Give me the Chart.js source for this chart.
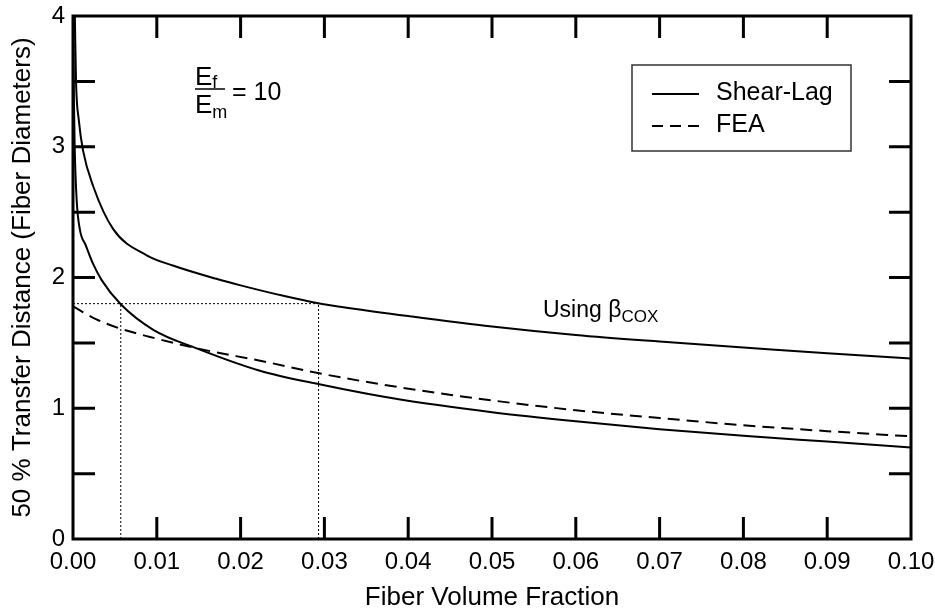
<!DOCTYPE html>
<html>
<head>
<meta charset="utf-8">
<script src="https://cdn.jsdelivr.net/npm/chart.js@4.4.1/dist/chart.umd.min.js"></script>
<style>
  html, body { margin: 0; padding: 0; background: #fff; }
  #wrap { width: 935px; height: 611px; }
</style>
</head>
<body>
<div id="wrap"><canvas id="grafico" width="935" height="611"></canvas></div>
<script>
// Shear-lag, using beta Cox
const fracaoCox = [0.00022, 0.00036, 0.0007, 0.0012, 0.0024, 0.0048, 0.0088, 0.012, 0.0171, 0.02, 0.0251, 0.0291, 0.0331, 0.04, 0.05, 0.06, 0.07, 0.08, 0.09, 0.10];
const distanciaCox = [4.0, 3.5, 3.2, 2.97, 2.70, 2.37, 2.17, 2.09, 1.99, 1.94, 1.86, 1.805, 1.765, 1.705, 1.625, 1.56, 1.51, 1.465, 1.42, 1.38];

// Shear-lag, lower curve
const fracaoShear = [0.00003, 0.0001, 0.0002, 0.00044, 0.00084, 0.0015, 0.00243, 0.00342, 0.0057, 0.00958, 0.01476, 0.0223, 0.0294, 0.0387, 0.05, 0.06, 0.07, 0.08, 0.09, 0.10];
const distanciaShear = [4.0, 3.4, 3.0, 2.59, 2.36, 2.25, 2.10, 1.98, 1.795, 1.60, 1.458, 1.287, 1.183, 1.07, 0.97, 0.90, 0.84, 0.79, 0.745, 0.70];

// FEA
const fracaoFEA = [0, 0.0028, 0.0056, 0.0092, 0.0148, 0.0229, 0.0294, 0.039, 0.05, 0.06, 0.07, 0.08, 0.09, 0.10];
const distanciaFEA = [1.78, 1.68, 1.61, 1.545, 1.458, 1.356, 1.267, 1.16, 1.06, 0.985, 0.925, 0.87, 0.825, 0.785];

// dotted guide lines
const guiaY = 1.8;
const guiaX = [0.0057, 0.0293];

const xTicks = [0, 0.01, 0.02, 0.03, 0.04, 0.05, 0.06, 0.07, 0.08, 0.09, 0.10];
const yTicks = [0, 0.5, 1, 1.5, 2, 2.5, 3, 3.5, 4];

const fonte = '"Liberation Sans", Arial, Helvetica, sans-serif';

function pontos(xs, ys){
    return xs.map((x, i) => ({x: x, y: ys[i]}));
};

function semPadding(s){
    s.paddingLeft = 0; s.paddingRight = 0; s.paddingTop = 0; s.paddingBottom = 0;
};

const linhaCurva = { borderColor: '#000', borderWidth: 2, pointRadius: 0, fill: false, cubicInterpolationMode: 'monotone' };
const linhaGuia = { borderColor: '#000', borderWidth: 1, borderDash: [2, 2], pointRadius: 0, fill: false };

//moldura, ticks internos e textos
const moldura = {
    id: 'moldura',
    afterDraw(chart){
        const ctx = chart.ctx;
        const a = chart.chartArea;
        const sx = chart.scales.x;
        const sy = chart.scales.y;
        ctx.save();
        ctx.strokeStyle = '#000';
        ctx.lineWidth = 3;
        ctx.lineCap = 'butt';
        ctx.strokeRect(a.left, a.top, a.right - a.left, a.bottom - a.top);
        const tam = 22;
        ctx.beginPath();
        xTicks.slice(1, -1).forEach(v => {
            const px = sx.getPixelForValue(v);
            ctx.moveTo(px, a.bottom); ctx.lineTo(px, a.bottom - tam);
            ctx.moveTo(px, a.top); ctx.lineTo(px, a.top + tam);
        });
        yTicks.slice(1, -1).forEach(v => {
            const py = sy.getPixelForValue(v);
            ctx.moveTo(a.left, py); ctx.lineTo(a.left + tam, py);
            ctx.moveTo(a.right, py); ctx.lineTo(a.right - tam, py);
        });
        ctx.stroke();

        // Ef / Em = 10
        ctx.fillStyle = '#000';
        ctx.textBaseline = 'alphabetic';
        ctx.textAlign = 'left';
        ctx.font = '26px ' + fonte;
        ctx.fillText('E', 195, 85);
        let w = ctx.measureText('E').width;
        ctx.font = '18px ' + fonte;
        ctx.fillText('f', 195 + w, 88);
        ctx.font = '26px ' + fonte;
        ctx.fillText('E', 195, 113);
        ctx.font = '18px ' + fonte;
        ctx.fillText('m', 195 + w, 118);
        ctx.lineWidth = 1.5;
        ctx.beginPath();
        ctx.moveTo(195, 89); ctx.lineTo(225, 89);
        ctx.stroke();
        ctx.font = '25px ' + fonte;
        ctx.fillText('= 10', 232, 100);

        // Using beta COX
        ctx.font = '23px ' + fonte;
        ctx.fillText('Using \u03b2', 543, 317);
        w = ctx.measureText('Using \u03b2').width;
        ctx.font = '17px ' + fonte;
        ctx.fillText('COX', 543 + w, 322);

        // legenda
        ctx.lineWidth = 1.5;
        ctx.strokeStyle = '#333';
        ctx.strokeRect(632, 65, 219, 86);
        ctx.strokeStyle = '#000';
        ctx.lineWidth = 2;
        ctx.beginPath();
        ctx.moveTo(652, 94); ctx.lineTo(699, 94);
        ctx.stroke();
        ctx.setLineDash([11, 7]);
        ctx.beginPath();
        ctx.moveTo(652, 126); ctx.lineTo(699, 126);
        ctx.stroke();
        ctx.setLineDash([]);
        ctx.font = '25px ' + fonte;
        ctx.textBaseline = 'middle';
        ctx.fillText('Shear-Lag', 716, 93);
        ctx.fillText('FEA', 716, 125);
        ctx.restore();
    }
};

const grafico = document.getElementById('grafico');
const graficoDistancia = new Chart(grafico, {
    type: 'line',
    data: {
        datasets: [
            Object.assign({ label: 'guia h', data: [{x: 0, y: guiaY}, {x: guiaX[1], y: guiaY}] }, linhaGuia),
            Object.assign({ label: 'guia v1', data: [{x: guiaX[0], y: 0}, {x: guiaX[0], y: guiaY}] }, linhaGuia),
            Object.assign({ label: 'guia v2', data: [{x: guiaX[1], y: 0}, {x: guiaX[1], y: guiaY}] }, linhaGuia),
            Object.assign({ label: 'Using βCOX', data: pontos(fracaoCox, distanciaCox) }, linhaCurva),
            Object.assign({ label: 'Shear-Lag', data: pontos(fracaoShear, distanciaShear) }, linhaCurva),
            Object.assign({ label: 'FEA', data: pontos(fracaoFEA, distanciaFEA), borderDash: [12, 7] }, linhaCurva)
        ]
    },
    options: {
        responsive: false,
        animation: false,
        layout: { padding: { top: 16, right: 24, bottom: 0, left: 0 } },
        plugins: { legend: { display: false }, tooltip: { enabled: false } },
        scales: {
            x: {
                type: 'linear',
                min: 0, max: 0.1,
                grid: { display: false, drawTicks: false },
                border: { display: false },
                afterFit: (s) => { s.height = 72; semPadding(s); },
                afterBuildTicks: (s) => { s.ticks = xTicks.map(v => ({value: v})); },
                ticks: {
                    color: '#000', padding: 9, maxRotation: 0, autoSkip: false,
                    font: { family: fonte, size: 24 },
                    callback: (v) => Number(v).toFixed(2)
                },
                title: {
                    display: true, text: 'Fiber Volume Fraction', color: '#000',
                    font: { family: fonte, size: 26, lineHeight: 1 },
                    padding: { top: 0, bottom: 0 }
                }
            },
            y: {
                type: 'linear',
                min: 0, max: 4,
                grid: { display: false, drawTicks: false },
                border: { display: false },
                afterFit: (s) => { s.width = 73; semPadding(s); },
                afterBuildTicks: (s) => { s.ticks = yTicks.map(v => ({value: v})); },
                ticks: {
                    color: '#000', padding: 8, autoSkip: false,
                    font: { family: fonte, size: 24 },
                    callback: (v) => (v % 1 === 0 ? String(v) : '')
                },
                title: {
                    display: true, text: '50 % Transfer Distance (Fiber Diameters)', color: '#000',
                    font: { family: fonte, size: 26, lineHeight: 1 },
                    padding: { top: 10, bottom: 0 }
                }
            }
        }
    },
    plugins: [moldura]
});
</script>
</body>
</html>
